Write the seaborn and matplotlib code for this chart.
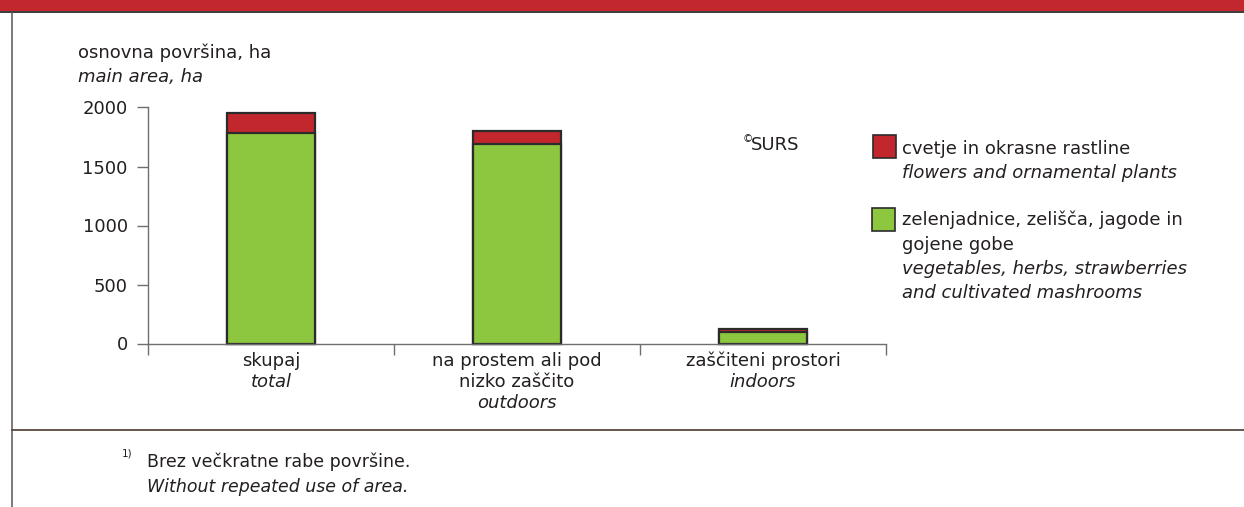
import matplotlib
matplotlib.use("Agg")
import matplotlib.pyplot as plt
import pandas as pd
import seaborn as sns
from matplotlib.lines import Line2D
from matplotlib.patches import Rectangle
from matplotlib.transforms import blended_transform_factory

# data
categories = ["skupaj", "na prostem ali pod nizko zaščito", "zaščiteni prostori"]
cat_lines_si = [["skupaj"], ["na prostem ali pod", "nizko zaščito"], ["zaščiteni prostori"]]
cat_lines_en = ["total", "outdoors", "indoors"]
vegetables = [1780, 1690, 95]
flowers = [170, 115, 25]
y_ticks = [0, 500, 1000, 1500, 2000]

RED = "#C1272D"
GREEN = "#8DC63F"
EDGE = "#2B2B2B"
TXT = "#231F20"
AXC = "#6E6E6E"
FS = 13

sns.set_theme(style="white")
plt.rcParams["font.family"] = ["DejaVu Sans"]

W, H = 1244, 507
fig = plt.figure(figsize=(W / 100, H / 100), dpi=100)


def fx(x):
    return x / W


def fy(y):
    return 1 - y / H


df = pd.DataFrame({"cat": categories, "veg": vegetables,
                   "total": [v + f for v, f in zip(vegetables, flowers)]})

ax = fig.add_axes([fx(148), fy(343.5), fx(886) - fx(148), fy(107.5) - fy(343.5)])
sns.barplot(data=df, x="cat", y="total", color=RED, saturation=1, width=0.355,
            edgecolor=EDGE, linewidth=1.6, ax=ax)
sns.barplot(data=df, x="cat", y="veg", color=GREEN, saturation=1, width=0.355,
            edgecolor=EDGE, linewidth=1.6, ax=ax)
for p in ax.patches:
    p.set_clip_on(False)

ax.set_xlim(-0.5, len(categories) - 0.5)
ax.set_ylim(0, 2000)
ax.set_xlabel("")
ax.set_ylabel("")
ax.set_xticks([i - 0.5 for i in range(len(categories) + 1)])
ax.set_xticklabels([])
ax.set_yticks(y_ticks)
ax.set_yticklabels([str(t) for t in y_ticks], fontsize=FS, color=TXT)
ax.tick_params(axis="both", direction="out", length=8, width=1, color=AXC)
ax.tick_params(axis="y", pad=6.5, left=True)
ax.tick_params(axis="x", bottom=True)
for s in ["top", "right"]:
    ax.spines[s].set_visible(False)
for s in ["left", "bottom"]:
    ax.spines[s].set_color(AXC)
    ax.spines[s].set_linewidth(1)
ax.set_facecolor("none")

# category labels
tr = blended_transform_factory(ax.transData, fig.transFigure)
for i, (si, en) in enumerate(zip(cat_lines_si, cat_lines_en)):
    y = 360.5
    for line in si:
        ax.text(i, fy(y), line, transform=tr, ha="center", va="center",
                fontsize=FS, color=TXT)
        y += 21.2
    ax.text(i, fy(y), en, transform=tr, ha="center", va="center",
            fontsize=FS, color=TXT, style="italic")

# axis title
fig.text(fx(78), fy(53), "osnovna površina, ha", ha="left", va="center", fontsize=FS, color=TXT)
fig.text(fx(78), fy(76.5), "main area, ha", ha="left", va="center", fontsize=FS, color=TXT, style="italic")

# copyright
fig.text(fx(743), fy(139), "©", ha="left", va="center", fontsize=7.5, color=TXT)
fig.text(fx(751), fy(144.5), "SURS", ha="left", va="center", fontsize=FS, color=TXT)

# legend
fig.patches.append(Rectangle((fx(873), fy(158)), fx(896) - fx(873), fy(135) - fy(158),
                             transform=fig.transFigure, facecolor=RED, edgecolor=EDGE, linewidth=1.2))
fig.patches.append(Rectangle((fx(872), fy(230.5)), fx(895) - fx(872), fy(207.5) - fy(230.5),
                             transform=fig.transFigure, facecolor=GREEN, edgecolor=EDGE, linewidth=1.2))
legend_lines = [
    (149, "cvetje in okrasne rastline", "normal"),
    (172.5, "flowers and ornamental plants", "italic"),
    (220, "zelenjadnice, zelišča, jagode in", "normal"),
    (244.5, "gojene gobe", "normal"),
    (268.5, "vegetables, herbs, strawberries", "italic"),
    (292.5, "and cultivated mashrooms", "italic"),
]
for y, t, st in legend_lines:
    fig.text(fx(902), fy(y), t, ha="left", va="center", fontsize=FS, color=TXT, style=st)

# footnote
fig.text(fx(122), fy(453), "1)", ha="left", va="center", fontsize=7.5, color=TXT)
fig.text(fx(147), fy(462), "Brez večkratne rabe površine.", ha="left", va="center", fontsize=12.5, color=TXT)
fig.text(fx(147), fy(487), "Without repeated use of area.", ha="left", va="center", fontsize=12.5,
         color=TXT, style="italic")

# frame: red header band, borders
fig.patches.append(Rectangle((0, fy(11)), 1, 1 - fy(11), transform=fig.transFigure,
                             facecolor=RED, edgecolor="none"))
fig.lines.append(Line2D([0, 1], [fy(11.8), fy(11.8)], transform=fig.transFigure, color="#3A3A3A", lw=1.4))
fig.lines.append(Line2D([fx(12.3), fx(12.3)], [fy(11.8), 0], transform=fig.transFigure, color="#555555", lw=1.1))
fig.lines.append(Line2D([fx(12.3), 1], [fy(430), fy(430)], transform=fig.transFigure, color="#4B3B2F", lw=1.2))

fig.savefig("out.png", dpi=100)
